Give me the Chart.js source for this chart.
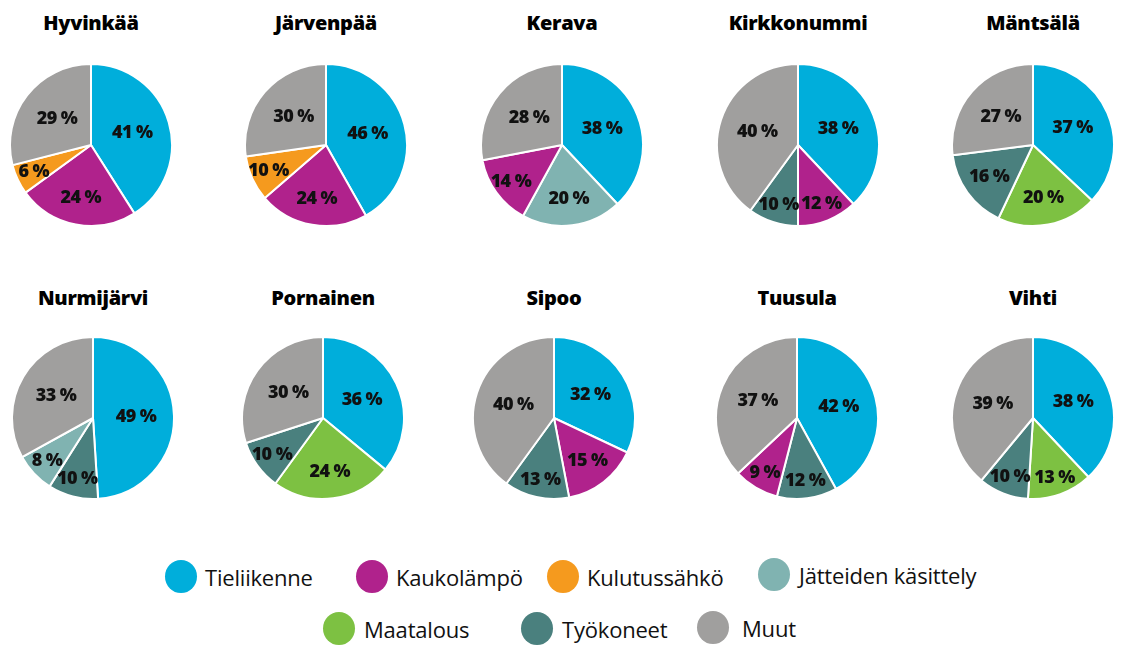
<!DOCTYPE html>
<html lang="fi">
<head>
<meta charset="utf-8">
<title>Päästöt sektoreittain</title>
<script src="https://cdn.jsdelivr.net/npm/chart.js@4/dist/chart.umd.min.js"></script>
<style>
  body { margin: 0; background: #fff; }
  #wrap { position: relative; width: 1124px; height: 652px; overflow: hidden; font-family: "Open Sans", sans-serif; }
  .title { position: absolute; width: 200px; margin-left: -100px; text-align: center;
           font: 800 20px "Open Sans", sans-serif; color: #000; line-height: 24px; letter-spacing: -0.3px; }
  .pie { position: absolute; width: 164px; height: 164px; }
  .dot { position: absolute; width: 32px; height: 33px; border-radius: 50%; margin: -16px 0 0 -16px; }
  .lbl { position: absolute; font: 400 22px "Open Sans", sans-serif; color: #111; line-height: 26px;
         margin-top: -13px; white-space: nowrap; letter-spacing: -0.2px; }
</style>
</head>
<body>
<div id="wrap"></div>
<script>
const categories = ['Tieliikenne', 'Kaukolämpö', 'Kulutussähkö', 'Jätteiden käsittely', 'Maatalous', 'Työkoneet', 'Muut'];
const categoryColors = ['#00AEDB', '#B0228C', '#F59A1E', '#80B3B1', '#7DC142', '#4A807E', '#A09F9E'];

const towns = ['Hyvinkää', 'Järvenpää', 'Kerava', 'Kirkkonummi', 'Mäntsälä',
               'Nurmijärvi', 'Pornainen', 'Sipoo', 'Tuusula', 'Vihti'];

// slice order per town, clockwise from 12 o'clock
const townSlices = [
  ['Tieliikenne', 'Kaukolämpö', 'Kulutussähkö', 'Muut'],
  ['Tieliikenne', 'Kaukolämpö', 'Kulutussähkö', 'Muut'],
  ['Tieliikenne', 'Jätteiden käsittely', 'Kaukolämpö', 'Muut'],
  ['Tieliikenne', 'Kaukolämpö', 'Työkoneet', 'Muut'],
  ['Tieliikenne', 'Maatalous', 'Työkoneet', 'Muut'],
  ['Tieliikenne', 'Työkoneet', 'Jätteiden käsittely', 'Muut'],
  ['Tieliikenne', 'Maatalous', 'Työkoneet', 'Muut'],
  ['Tieliikenne', 'Kaukolämpö', 'Työkoneet', 'Muut'],
  ['Tieliikenne', 'Työkoneet', 'Kaukolämpö', 'Muut'],
  ['Tieliikenne', 'Maatalous', 'Työkoneet', 'Muut']
];
const townShares = [
  [41, 24, 6, 29],
  [46, 24, 10, 30],
  [38, 20, 14, 28],
  [38, 12, 10, 40],
  [37, 20, 16, 27],
  [49, 10, 8, 33],
  [36, 24, 10, 30],
  [32, 15, 13, 40],
  [42, 12, 9, 37],
  [38, 13, 10, 39]
];

// layout: pie centres and legend placement
const pieCenters = [
  [91, 145], [326, 145], [562, 145], [798, 145], [1033, 145],
  [93, 418], [323, 418], [554, 418], [797, 418], [1033, 418]
];
const titleTops = [11, 286];
const legendSpots = [
  [181, 576, 205], [372, 576, 396], [563, 576, 587], [774, 574, 799],
  [339, 628, 364], [537, 628, 562], [713, 627, 742]
];

const wrap = document.getElementById('wrap');

// percentage text inside each slice; small slices get pushed toward the rim
const sliceLabels = {
  id: 'sliceLabels',
  afterDatasetsDraw(chart) {
    const ctx = chart.ctx;
    const values = chart.data.datasets[0].data;
    chart.getDatasetMeta(0).data.forEach((arc, i) => {
      const p = arc.getProps(['x', 'y', 'startAngle', 'endAngle', 'outerRadius'], true);
      const mid = (p.startAngle + p.endAngle) / 2;
      const v = values[i];
      const f = v >= 25 ? 0.53 : v >= 15 ? 0.67 : 0.78;
      ctx.save();
      ctx.font = '800 18px "Open Sans", sans-serif';
      ctx.letterSpacing = '-0.6px';
      ctx.fillStyle = '#111';
      ctx.textAlign = 'center';
      ctx.textBaseline = 'middle';
      ctx.fillText(v + ' %', p.x + Math.cos(mid) * p.outerRadius * f, p.y + Math.sin(mid) * p.outerRadius * f);
      ctx.restore();
    });
  }
};

towns.forEach((town, t) => {
  const [cx, cy] = pieCenters[t];

  const title = document.createElement('div');
  title.className = 'title';
  title.style.left = cx + 'px';
  title.style.top = titleTops[t < 5 ? 0 : 1] + 'px';
  title.textContent = town;
  wrap.appendChild(title);

  const box = document.createElement('div');
  box.className = 'pie';
  box.style.left = (cx - 82) + 'px';
  box.style.top = (cy - 82) + 'px';
  const canvas = document.createElement('canvas');
  box.appendChild(canvas);
  wrap.appendChild(box);

  new Chart(canvas, {
    type: 'pie',
    data: {
      labels: townSlices[t],
      datasets: [{
        data: townShares[t],
        backgroundColor: townSlices[t].map(c => categoryColors[categories.indexOf(c)]),
        borderColor: '#fff',
        borderWidth: 2
      }]
    },
    options: {
      responsive: true,
      maintainAspectRatio: false,
      animation: false,
      layout: { padding: 0 },
      plugins: { legend: { display: false }, tooltip: { enabled: false } }
    },
    plugins: [sliceLabels]
  });
});

categories.forEach((name, i) => {
  const [dx, dy, tx] = legendSpots[i];
  const dot = document.createElement('div');
  dot.className = 'dot';
  dot.style.left = dx + 'px';
  dot.style.top = dy + 'px';
  dot.style.background = categoryColors[i];
  wrap.appendChild(dot);

  const lbl = document.createElement('div');
  lbl.className = 'lbl';
  lbl.style.left = tx + 'px';
  lbl.style.top = (dy + 1) + 'px';
  lbl.textContent = name;
  wrap.appendChild(lbl);
});
</script>
</body>
</html>
